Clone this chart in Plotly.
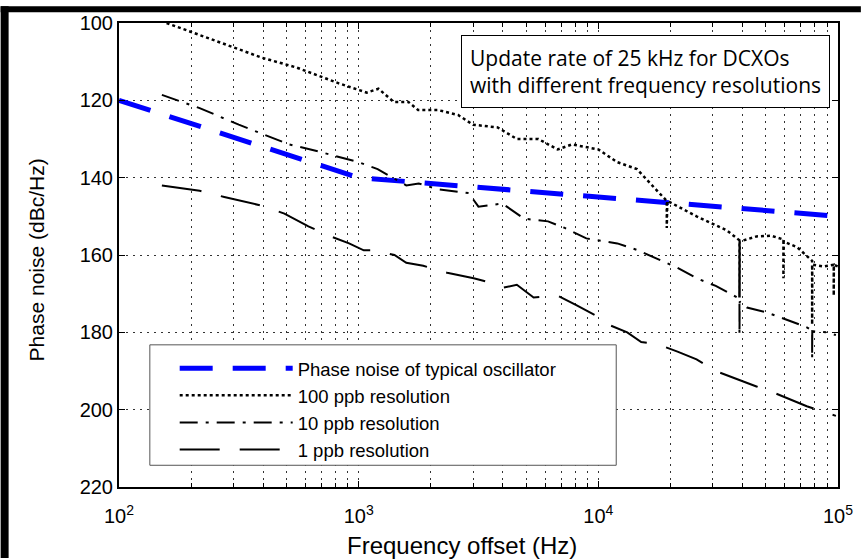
import plotly.graph_objects as go

# ---------------- data ----------------
osc_f = [100, 1000, 100000]
osc_pn = [120, 140, 150]

ppb100_f = [158, 289, 396, 550, 826, 1080, 1210, 1400, 1610, 1770, 2140, 2600, 3000, 3800, 4570, 5620, 6760, 7760,
            10000, 12000, 14500, 17600, 19300, 19300, 19400, 25700, 34300, 38800, 38800, 38900, 45700, 52500, 59200,
            59200, 59300, 67600, 78000, 78000, 78100, 87000, 96000, 96000, 96100, 100000]
ppb100_pn = [100, 105.9, 109, 111.5, 115.6, 118, 117, 120.4, 120.4, 122.5, 122.5, 123.8, 126.3, 127, 130, 130, 132.7,
             131.4, 132.7, 136, 137.8, 143.4, 146, 153, 146, 150, 153.6, 156.2, 171, 156.5, 155.2, 155, 156,
             166, 156.5, 158, 161.5, 178, 162.5, 163, 162.5, 170.5, 162.5, 163]

ppb10_f = [151, 217, 316, 385, 513, 676, 832, 1000, 1200, 1580, 1780, 2140, 2880, 3160, 3980, 4900, 6170, 7240,
           8910, 12000, 14500, 17400, 21400, 25700, 30900, 38000, 38800, 38800, 38900, 41700, 50100, 60300, 74100,
           78000, 78000, 78100, 89000, 98000]
ppb10_pn = [118.6, 122, 126.3, 128.4, 131.4, 133.2, 134.7, 136, 137.8, 142, 141.5, 143, 144, 147.5, 146.7, 150.6,
            151.3, 153, 155.7, 157, 158.7, 160.8, 163.3, 166, 168, 171, 171.5, 180.7, 172, 173.6, 174.8, 176.6, 178.7,
            179.5, 186.9, 179.7, 180, 180.7]

ppb1_f = [151, 217, 275, 398, 490, 617, 750, 912, 1050, 1150, 1410, 1580, 1860, 2340, 3020, 3470, 3980, 4570,
          5370, 6760, 8130, 10000, 11000, 13200, 15100, 17600, 21400, 25700, 30900, 38000, 45700, 55000, 63100,
          74100, 85100, 98000]
ppb1_pn = [142, 143.4, 145, 147.3, 149.3, 152.6, 155, 157, 158.8, 158.8, 160, 162, 162.8, 164.6, 166, 167, 168.5,
           167.7, 171, 170.5, 173, 176, 178, 180, 182.5, 183, 185, 187, 190, 192.2, 194, 195.8, 197.3, 199.1,
           200.4, 201.6]

names = ["Phase noise of typical oscillator", "100 ppb resolution", "10 ppb resolution", "1 ppb resolution"]

x_major = [100, 1000, 10000, 100000]
x_major_text = ["10<sup>2</sup>", "10<sup>3</sup>", "10<sup>4</sup>", "10<sup>5</sup>"]
x_minor = [m * d for d in (100, 1000, 10000) for m in range(2, 10)]
y_ticks = [100, 120, 140, 160, 180, 200, 220]

# ---------------- figure ----------------
fig = go.Figure()
fig.add_trace(go.Scatter(x=osc_f, y=osc_pn, mode="lines", name=names[0], legendgroup="a",
                         line=dict(color="#0000ff", width=5, dash="33px,20px")))
fig.add_trace(go.Scatter(x=ppb100_f, y=ppb100_pn, mode="lines", name=names[1], legendgroup="b",
                         line=dict(color="black", width=2.5, dash="3px,3px")))
fig.add_trace(go.Scatter(x=ppb10_f, y=ppb10_pn, mode="lines", name=names[2], legendgroup="c",
                         line=dict(color="black", width=2, dash="18px,8px,3px,8px")))
fig.add_trace(go.Scatter(x=ppb1_f, y=ppb1_pn, mode="lines", name=names[3], legendgroup="d",
                         line=dict(color="black", width=2, dash="40px,20px")))

W, H = 865, 560
L, R, T, B = 119, 23, 17, 73
pw, ph = W - L - R, H - T - B

def px(xp):
    return (xp - L) / pw

def py(yp):
    return (H - B - yp) / ph

FAM = "Liberation Sans"
axis_font = dict(family=FAM, size=20, color="black")
grid = dict(showgrid=True, gridcolor="#333333", griddash="2px,5px", gridwidth=1)

fig.update_layout(
    width=W, height=H,
    margin=dict(l=L, r=R, t=T, b=B),
    paper_bgcolor="white", plot_bgcolor="white",
    font=axis_font,
    showlegend=True,
    legend=dict(x=px(175), y=py(348), xanchor="left", yanchor="top",
                bgcolor="rgba(0,0,0,0)", borderwidth=0,
                font=dict(family=FAM, size=18.5, color="black"),
                itemwidth=113, tracegroupgap=0),
    xaxis=dict(type="log", range=[2, 5], tickmode="array", tickvals=x_major, ticktext=x_major_text,
               ticks="inside", ticklen=6, tickwidth=1, tickcolor="black", ticklabelstandoff=10,
               showline=True, linecolor="black", linewidth=2, mirror="ticks",
               minor=dict(tickvals=x_minor, ticks="inside", ticklen=4, tickcolor="black", **grid),
               tickfont=axis_font, zeroline=False, **grid),
    yaxis=dict(range=[220, 100], tickmode="array", tickvals=y_ticks,
               ticks="inside", ticklen=6, tickwidth=1, tickcolor="black",
               showline=True, linecolor="black", linewidth=2, mirror="ticks",
               tickfont=axis_font, zeroline=False, **grid),
    annotations=[dict(xref="paper", yref="paper", x=px(648), y=py(66), xanchor="center", yanchor="middle",
                      text="Update rate of 25 kHz for DCXOs<br>with different frequency resolutions",
                      showarrow=False, align="left",
                      font=dict(family="Open Sans, sans-serif", size=21, color="black"),
                      bgcolor="white", bordercolor="black", borderwidth=1, borderpad=8),
                 dict(xref="paper", yref="paper", x=px(464), y=py(546), xanchor="center", yanchor="middle",
                      text="Frequency offset (Hz)", showarrow=False,
                      font=dict(family=FAM, size=24, color="black")),
                 dict(xref="paper", yref="paper", x=px(36), y=py(257), xanchor="center", yanchor="middle",
                      text="Phase noise (dBc/Hz)", showarrow=False, textangle=-90,
                      font=dict(family=FAM, size=21, color="black"))],
    shapes=[dict(type="rect", xref="paper", yref="paper", x0=px(150), x1=px(619), y0=py(465), y1=py(343),
                 fillcolor="white", line=dict(color="#555555", width=1), layer="above"),
            dict(type="rect", xref="paper", yref="paper", x0=px(0), x1=px(8), y0=py(559), y1=py(0),
                 fillcolor="black", line=dict(width=0), layer="above"),
            dict(type="rect", xref="paper", yref="paper", x0=px(0), x1=px(865), y0=py(6), y1=py(0),
                 fillcolor="black", line=dict(width=0), layer="above")],
)

fig.write_html("out.html", config={"displayModeBar": False})
